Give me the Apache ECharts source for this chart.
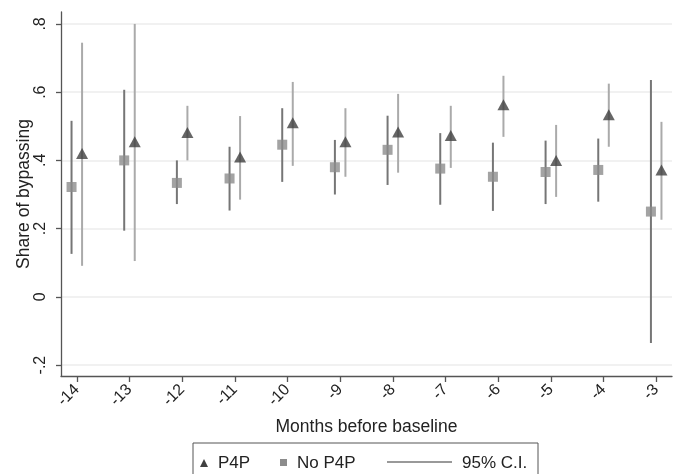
<!DOCTYPE html>
<html>
<head>
<meta charset="utf-8">
<script src="https://cdn.jsdelivr.net/npm/echarts@6/dist/echarts.min.js"></script>
<style>
  html, body { margin: 0; padding: 0; background: #fff; }
  #chart { width: 681px; height: 474px; }
</style>
</head>
<body>
<div id="chart"></div>
<script>
// months before baseline
var months = [-14, -13, -12, -11, -10, -9, -8, -7, -6, -5, -4, -3];
var yTicks = [-0.2, 0, 0.2, 0.4, 0.6, 0.8];

// P4P (triangles)
var p4p   = [0.420, 0.455, 0.482, 0.410, 0.510, 0.455, 0.483, 0.473, 0.563, 0.400, 0.534, 0.372];
var p4pLo = [0.091, 0.105, 0.400, 0.285, 0.384, 0.352, 0.364, 0.378, 0.469, 0.293, 0.440, 0.226];
var p4pHi = [0.745, 0.800, 0.560, 0.530, 0.630, 0.553, 0.595, 0.560, 0.648, 0.504, 0.625, 0.513];

// No P4P (squares)
var noP4p   = [0.322, 0.400, 0.334, 0.347, 0.446, 0.380, 0.431, 0.376, 0.352, 0.366, 0.372, 0.250];
var noP4pLo = [0.126, 0.194, 0.272, 0.253, 0.337, 0.300, 0.328, 0.270, 0.252, 0.272, 0.279, -0.135];
var noP4pHi = [0.516, 0.607, 0.400, 0.440, 0.553, 0.460, 0.531, 0.480, 0.452, 0.458, 0.464, 0.636];

var shift = 0.1; // small horizontal dodge between the two groups
var font = 'Liberation Sans, Arial, sans-serif';

function points(vals, dx) {
  return months.map(function (m, i) { return [m + dx, vals[i]]; });
}
function bars(lo, hi, dx) {
  return months.map(function (m, i) { return [m + dx, lo[i], hi[i]]; });
}
function ciSeries(data, color) {
  return {
    type: 'custom',
    data: data,
    encode: { x: 0, y: [1, 2] },
    silent: true,
    z: 1,
    renderItem: function (params, api) {
      var a = api.coord([api.value(0), api.value(1)]);
      var b = api.coord([api.value(0), api.value(2)]);
      return {
        type: 'line',
        shape: { x1: a[0], y1: a[1], x2: b[0], y2: b[1] },
        style: { stroke: color, lineWidth: 2 }
      };
    }
  };
}

var chart = echarts.init(document.getElementById('chart'), null, { renderer: 'canvas' });

var option = {
  backgroundColor: '#fff',
  animation: false,
  grid: { left: 61, right: 9, top: 12, bottom: 98 },
  xAxis: {
    type: 'value',
    min: -14.3,
    max: -2.7,
    name: 'Months before baseline',
    nameLocation: 'middle',
    nameGap: 42,
    nameTextStyle: { fontFamily: font, fontSize: 17.5, color: '#222' },
    axisLine: { show: true, onZero: false, lineStyle: { color: '#555', width: 1.3 } },
    axisTick: { show: true, length: 6, customValues: months, lineStyle: { color: '#555', width: 1.3 } },
    axisLabel: {
      customValues: months,
      rotate: 45,
      margin: 11,
      fontFamily: font,
      fontSize: 16,
      color: '#222'
    },
    splitLine: { show: false }
  },
  yAxis: {
    type: 'value',
    min: -0.232,
    max: 0.835,
    name: 'Share of bypassing',
    nameLocation: 'middle',
    nameGap: 28,
    nameMoveOverlap: false,
    nameTextStyle: { fontFamily: font, fontSize: 17.5, color: '#222' },
    axisLine: { show: true, onZero: false, lineStyle: { color: '#555', width: 1.3 } },
    axisTick: { show: true, length: 5, customValues: yTicks, lineStyle: { color: '#555', width: 1.3 } },
    axisLabel: {
      customValues: yTicks,
      rotate: 90,
      margin: 12,
      fontFamily: font,
      fontSize: 16,
      color: '#222',
      formatter: function (v) {
        if (Math.abs(v) < 1e-9) return '0';
        return v.toFixed(1).replace('0.', '.');
      }
    },
    splitLine: { show: true, lineStyle: { color: '#ececec', width: 1.5 } }
  },
  series: [
    ciSeries(bars(noP4pLo, noP4pHi, -shift), '#767676'),
    ciSeries(bars(p4pLo, p4pHi, shift), '#aaaaaa'),
    {
      name: 'No P4P',
      type: 'scatter',
      data: points(noP4p, -shift),
      symbol: 'rect',
      symbolSize: 10,
      itemStyle: { color: '#8c8c8c' },
      z: 3
    },
    {
      name: 'P4P',
      type: 'scatter',
      data: points(p4p, shift),
      symbol: 'triangle',
      symbolSize: [12, 11],
      itemStyle: { color: '#404040' },
      z: 3
    }
  ],
  graphic: [
    { type: 'rect', shape: { x: 193, y: 443, width: 345, height: 40 },
      style: { fill: '#fff', stroke: '#555', lineWidth: 1 } },
    { type: 'polygon', shape: { points: [[200, 467], [208, 467], [204, 459]] },
      style: { fill: '#404040' } },
    { type: 'text', x: 218, y: 463, style: { text: 'P4P', font: '17px ' + font, fill: '#222', verticalAlign: 'middle' } },
    { type: 'rect', shape: { x: 280, y: 459, width: 7, height: 7 }, style: { fill: '#8c8c8c' } },
    { type: 'text', x: 297, y: 463, style: { text: 'No P4P', font: '17px ' + font, fill: '#222', verticalAlign: 'middle' } },
    { type: 'line', shape: { x1: 387, y1: 462, x2: 452, y2: 462 }, style: { stroke: '#777', lineWidth: 1.3 } },
    { type: 'text', x: 462, y: 463, style: { text: '95% C.I.', font: '17px ' + font, fill: '#222', verticalAlign: 'middle' } }
  ]
};

chart.setOption(option);
</script>
</body>
</html>
